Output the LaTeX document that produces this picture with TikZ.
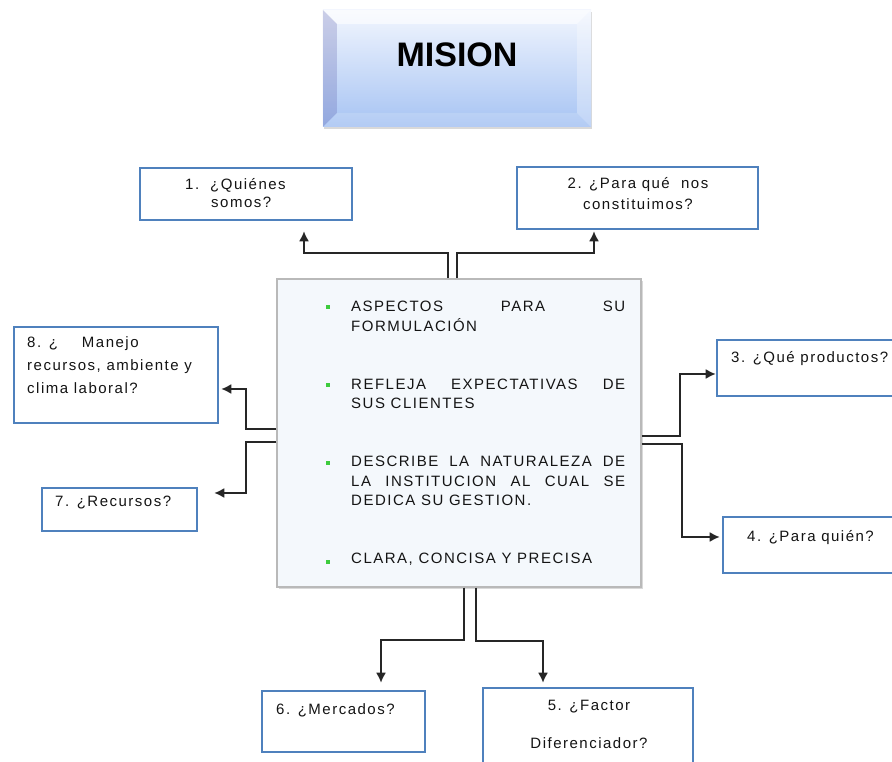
\documentclass[tikz,border=0pt]{standalone}
\usepackage{fontspec}
\setmainfont{Liberation Sans}
\newfontfamily\boxfont[LetterSpace=10]{Liberation Sans}
\usetikzlibrary{arrows.meta, shadows, calc}
\definecolor{boxblue}{HTML}{4F81BD}
\definecolor{lineg}{HTML}{262626}
\definecolor{bulletg}{HTML}{3DCB3D}
\definecolor{misiontop}{HTML}{F2F6FE}
\definecolor{misionbot}{HTML}{A6C3F3}
\definecolor{midfill}{HTML}{F4F8FC}

\begin{document}
\begin{tikzpicture}[x=1pt, y=1pt, >={Latex[length=10pt,width=10pt]},
  qbox/.style={draw=boxblue, line width=2.6pt, fill=white},
  qtext/.style={font=\boxfont\fontsize{15}{18}\selectfont, text=black!92, inner sep=0pt, align=left},
  conn/.style={draw=lineg, line width=1.6pt, ->},
  bul/.style={fill=bulletg, minimum size=4pt, inner sep=0pt},
  aspect/.style={qtext, font=\boxfont\fontsize{15}{19.5}\selectfont, text width=274, align=justify, anchor=base west}]
  \clip (0,0) rectangle (892,762);

  % titulo
  \node[draw=none, minimum width=268, minimum height=117, top color=misiontop, bottom color=misionbot,
        drop shadow={shadow xshift=1pt, shadow yshift=-2pt, opacity=.3}] (mision) at (457,693.5) {};
  \fill[blue!30!gray, opacity=.25] (mision.north west) -- ++(14,-14) -- ($(mision.south west)+(14,14)$) -- (mision.south west) -- cycle;
  \fill[white, opacity=.6] (mision.north west) -- ++(14,-14) -- ($(mision.north east)+(-14,-14)$) -- (mision.north east) -- cycle;
  \fill[white, opacity=.3] (mision.north east) -- ++(-14,-14) -- ($(mision.south east)+(-14,14)$) -- (mision.south east) -- cycle;
  \fill[white, opacity=.15] (mision.south west) -- ++(14,14) -- ($(mision.south east)+(-14,14)$) -- (mision.south east) -- cycle;
  \node[font=\bfseries\fontsize{34}{34}\selectfont] (mtitle) at (457,707) {MISION};

  \node[draw=gray!55, line width=1.5pt, fill=midfill, minimum width=364, minimum height=308,
        drop shadow={shadow xshift=2pt, shadow yshift=-2pt, opacity=.3}] (mid) at (459,329) {};

  \node[qbox, minimum width=212, minimum height=52] (q1) at (246,568) {};
  \node[qbox, minimum width=241, minimum height=62] (q2) at (637.5,564) {};
  \node[qbox, minimum width=188, minimum height=56] (q3) at (811,394) {};
  \node[qbox, minimum width=182, minimum height=56] (q4) at (814,217) {};
  \node[qbox, minimum width=210, minimum height=87] (q5) at (588,30.5) {};
  \node[qbox, minimum width=163, minimum height=61] (q6) at (343.5,40.5) {};
  \node[qbox, minimum width=155, minimum height=43] (q7) at (119.5,252.5) {};
  \node[qbox, minimum width=204, minimum height=96] (q8) at (116,387) {};

  % multi-line labels sit on their last baseline
  \node[qtext, anchor=base west] (t1) at (185,554) {1.\hspace{11pt}¿Quiénes\\\hspace{26pt}somos?};
  \node[qtext, anchor=base, align=center, font=\boxfont\fontsize{15}{21}\selectfont] (t2) at (638,552) {2. ¿Para qué\ \ nos\\constituimos?};
  \node[qtext, anchor=base west] (t3) at (731,399) {3. ¿Qué productos?};
  \node[qtext, anchor=base west] (t4) at (747,220) {4. ¿Para quién?};
  \node[qtext, anchor=base, align=center, font=\boxfont\fontsize{15}{38}\selectfont] (t5) at (589,13) {5. ¿Factor\\Diferenciador?};
  \node[qtext, anchor=base west] (t6) at (276,47) {6. ¿Mercados?};
  \node[qtext, anchor=base west] (t7) at (55,255) {7. ¿Recursos?};
  \node[qtext, anchor=base west, font=\boxfont\fontsize{15}{23}\selectfont] (t8) at (27,368) {8. ¿\hspace{24pt}Manejo\\recursos, ambiente y\\clima laboral?};

  \node[aspect] (a1) at (351,450) {ASPECTOS PARA SU\linebreak FORMULACIÓN};
  \node[aspect] (a2) at (351,372.5) {REFLEJA EXPECTATIVAS DE\linebreak SUS CLIENTES};
  \node[aspect] (a3) at (351,295) {DESCRIBE LA NATURALEZA DE\linebreak LA INSTITUCION AL CUAL SE\linebreak DEDICA SU GESTION.};
  \node[aspect] (a4) at (351,198) {CLARA, CONCISA Y PRECISA};
  \node[bul] (b1) at (328,455.3) {};
  \node[bul] (b2) at (328,377) {};
  \node[bul] (b3) at (328,299.3) {};
  \node[bul] (b4) at (328,200.3) {};

  \draw[conn] ([xshift=-11]mid.north) -- ++(0,25) -| ([xshift=58,yshift=-10]q1.south);
  \draw[conn] ([xshift=-2]mid.north) -- ++(0,25) -| ([xshift=-43.5,yshift=-1]q2.south);
  \draw[conn] ([yshift=-3]mid.east) -- ++(38,0) |- ([yshift=-6]q3.west);
  \draw[conn] ([yshift=-11]mid.east) -- ++(40,0) |- ([xshift=-2,yshift=8]q4.west);
  \draw[conn] ([xshift=17]mid.south) -- ++(0,-53) -| ([xshift=-45,yshift=4]q5.north);
  \draw[conn] ([xshift=5]mid.south) -- ++(0,-52) -| ([xshift=37.5,yshift=7]q6.north);
  \draw[conn] ([yshift=-9]mid.west) -- ++(-30,0) |- ([xshift=16,yshift=16.5]q7.east);
  \draw[conn] ([yshift=4]mid.west) -- ++(-30,0) |- ([xshift=2,yshift=-14]q8.east);
\end{tikzpicture}
\end{document}
